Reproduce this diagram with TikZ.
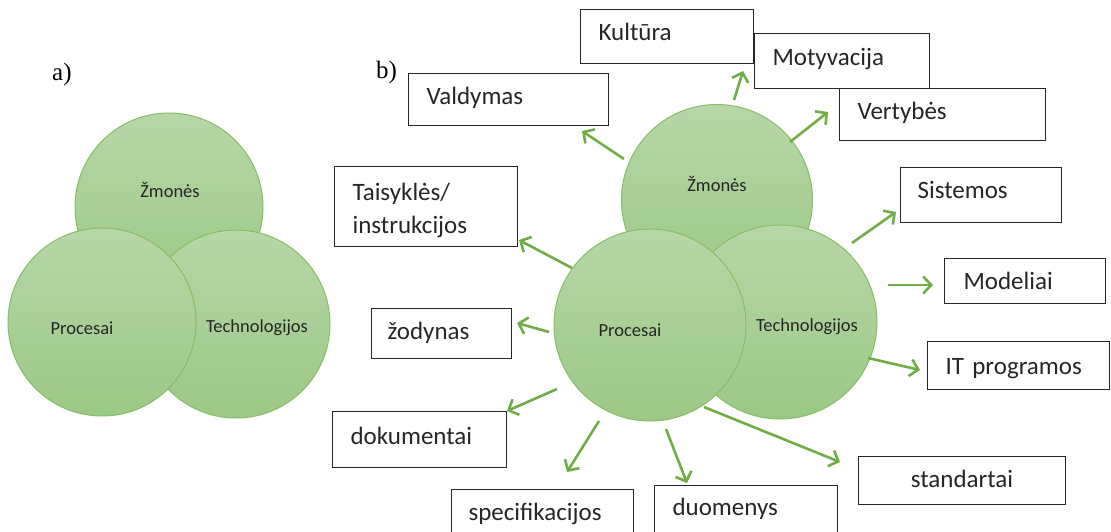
\documentclass[tikz,border=0pt]{standalone}
\usepackage{fontspec}
\setmainfont{Carlito}
\newfontfamily\serifletter{Liberation Serif}
\usetikzlibrary{arrows.meta}
\definecolor{arrowgreen}{HTML}{70AD47}
\definecolor{circtop}{HTML}{B6D7A8}
\definecolor{circbot}{HTML}{9CC886}
\definecolor{circedge}{HTML}{86BE68}
\tikzset{
  vcircle/.style={circle, draw=circedge, line width=1pt, top color=circtop, bottom color=circbot, minimum size=#1, inner sep=0pt},
  clabel/.style={font=\fontsize{18.5}{20}\selectfont, text=black!85, inner sep=0pt},
  boxnode/.style={draw=black!85, line width=1.1pt, fill=white, anchor=north west, inner xsep=18pt, inner ysep=0pt,
     text height=31pt, align=left, font=\fontsize{25}{33}\selectfont, text=black!85},
  garrow/.style={draw=arrowgreen, line width=2.6pt, -{Straight Barb[length=8pt,width=17pt]}},
  plabel/.style={font=\serifletter\fontsize{25}{28}\selectfont, anchor=base west, inner sep=0pt}
}
\begin{document}
\begin{tikzpicture}[x=1pt,y=-1pt]
\clip (0,0) rectangle (1111,531);
\fill[white] (0,0) rectangle (1111,531);
% labels a) b)
\node[plabel] (la) at (52,80) {a)};
\node[plabel] (lb) at (376,78) {b)};
% left diagram
\node[vcircle=188pt] (lz) at (169,207) {};
\node[vcircle=188pt] (lt) at (236,324) {};
\node[vcircle=188pt] (lp) at (102,322) {};
\node[clabel] (lzt) at (170,190) {Žmonės};
\node[clabel] (lpt) at (82,328) {Procesai};
\node[clabel] (ltt) at (257,328) {Technologijos};
% right diagram
\node[vcircle=191pt] (zm) at (717,200) {};
\node[vcircle=194pt] (te) at (780,322) {};
\node[vcircle=192pt] (pr) at (650,325) {};
\node[clabel] (zmt) at (717,184) {Žmonės};
\node[clabel] (prt) at (630,330) {Procesai};
\node[clabel] (tet) at (807,327) {Technologijos};
% boxes
\node[boxnode, text width=137pt, text depth=23pt] (kul) at (580,9) {Kultūra};
\node[boxnode, text width=139pt, text depth=23pt, text height=32pt] (mot) at (754,33) {Motyvacija};
\node[boxnode, text width=170pt, text depth=21pt] (ver) at (839,88) {Vertybės};
\node[boxnode, text width=164pt, text depth=21pt] (val) at (408,73) {Valdymas};
\node[boxnode, text width=147pt, text height=34pt, text depth=46pt] (tai) at (334,166) {Taisyklės/\\instrukcijos};
\node[boxnode, inner xsep=16pt, text width=108pt, text depth=19pt] (zod) at (371,308) {žodynas};
\node[boxnode, inner xsep=17pt, text width=127pt, text depth=24pt] (sis) at (900,167) {Sistemos};
\node[boxnode, inner xsep=19pt, text width=123pt, text depth=14pt] (mod) at (944,258) {Modeliai};
\node[boxnode, text width=146pt, text height=33pt, text depth=15pt] (itp) at (927,341) {IT programos};
\node[boxnode, text width=138pt, text height=33pt, text depth=23pt] (dok) at (332,411) {dokumentai};
\node[boxnode, inner xsep=17pt, text width=148pt, text height=31pt, text depth=40pt] (spe) at (451,489) {specifikacijos};
\node[boxnode, text width=147pt, text height=30pt, text depth=40pt] (duo) at (654,485) {duomenys};
\node[boxnode, align=center, text width=171pt, text depth=17pt] (sta) at (858,456) {standartai};
% arrow end points
\coordinate (a1) at (624,159); \coordinate (b1) at (582,131);
\coordinate (a2) at (734,100); \coordinate (b2) at (743,71);
\coordinate (a3) at (790,142); \coordinate (b3) at (828,112);
\coordinate (a4) at (572,268); \coordinate (b4) at (519,240);
\coordinate (a5) at (549,332); \coordinate (b5) at (517,323);
\coordinate (a6) at (852,243); \coordinate (b6) at (896,212);
\coordinate (a7) at (888,285); \coordinate (b7) at (933,285);
\coordinate (a8) at (868,358); \coordinate (b8) at (920,370);
\coordinate (a9) at (557,389); \coordinate (b9) at (507,411);
\coordinate (a10) at (599,421); \coordinate (b10) at (567,472);
\coordinate (a11) at (666,429); \coordinate (b11) at (687,483);
\coordinate (a12) at (704,407); \coordinate (b12) at (840,462);
\foreach \i in {1,...,12} {\draw[garrow] (a\i) -- (b\i);}
\end{tikzpicture}
\end{document}
